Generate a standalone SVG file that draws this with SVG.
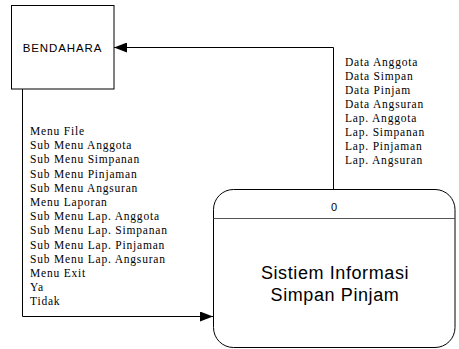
<svg xmlns="http://www.w3.org/2000/svg" width="459" height="349" viewBox="0 0 459 349">
  <style>
    .box { fill: #fff; stroke: #000; stroke-width: 1; }
    .sep { stroke: #555; stroke-width: 1.2; }
    .conn { fill: none; stroke: #000; stroke-width: 1; }
    .lbl { font-family: "Liberation Serif", "Times New Roman", serif; font-size: 11.5px; letter-spacing: 0.8px; fill: #000; }
    .sans { font-family: "Liberation Sans", Arial, sans-serif; fill: #000; }
  </style>
  <defs>
    <marker id="arrow" viewBox="0 0 13 10" refX="13" refY="5" markerWidth="13" markerHeight="10" markerUnits="userSpaceOnUse" orient="auto">
      <path d="M0,0 L13,5 L0,10 Z" fill="#000"/>
    </marker>
  </defs>
  <rect width="459" height="349" fill="#fff"/>

  <g id="connectors">
    <path class="conn" d="M333.5,189 L333.5,47.5 L114,47.5" marker-end="url(#arrow)"/>
    <path class="conn" d="M22.5,89 L22.5,316.5 L213,316.5" marker-end="url(#arrow)"/>
    <g id="label-out">
      <text class="lbl" x="345" y="66">Data Anggota</text>
      <text class="lbl" x="345" y="80">Data Simpan</text>
      <text class="lbl" x="345" y="94">Data Pinjam</text>
      <text class="lbl" x="345" y="108">Data Angsuran</text>
      <text class="lbl" x="345" y="122">Lap. Anggota</text>
      <text class="lbl" x="345" y="136">Lap. Simpanan</text>
      <text class="lbl" x="345" y="150">Lap. Pinjaman</text>
      <text class="lbl" x="345" y="164">Lap. Angsuran</text>
    </g>
    <g id="label-in">
      <text class="lbl" x="30" y="135">Menu File</text>
      <text class="lbl" x="30" y="149.2">Sub Menu Anggota</text>
      <text class="lbl" x="30" y="163.4">Sub Menu Simpanan</text>
      <text class="lbl" x="30" y="177.6">Sub Menu Pinjaman</text>
      <text class="lbl" x="30" y="191.8">Sub Menu Angsuran</text>
      <text class="lbl" x="30" y="206">Menu Laporan</text>
      <text class="lbl" x="30" y="220.2">Sub Menu Lap. Anggota</text>
      <text class="lbl" x="30" y="234.4">Sub Menu Lap. Simpanan</text>
      <text class="lbl" x="30" y="248.6">Sub Menu Lap. Pinjaman</text>
      <text class="lbl" x="30" y="262.8">Sub Menu Lap. Angsuran</text>
      <text class="lbl" x="30" y="277">Menu Exit</text>
      <text class="lbl" x="30" y="291.2">Ya</text>
      <text class="lbl" x="30" y="305.4">Tidak</text>
    </g>
  </g>

  <g id="bendahara">
    <rect class="box" x="11.5" y="5.5" width="102.5" height="83.5"/>
    <text class="sans" x="62.5" y="51.5" font-size="11.5" letter-spacing="0.9" text-anchor="middle">BENDAHARA</text>
  </g>

  <g id="process-0">
    <rect class="box" x="213.5" y="189.5" width="241.5" height="158" rx="20" ry="20"/>
    <line class="sep" x1="213.5" y1="218.5" x2="455" y2="218.5"/>
    <text class="sans" x="334" y="211" font-size="11" text-anchor="middle">0</text>
    <text class="sans" x="335" y="279" font-size="18" letter-spacing="0.6" text-anchor="middle">Sistiem Informasi</text>
    <text class="sans" x="335" y="301" font-size="18" letter-spacing="0.6" text-anchor="middle">Simpan Pinjam</text>
  </g>
</svg>
